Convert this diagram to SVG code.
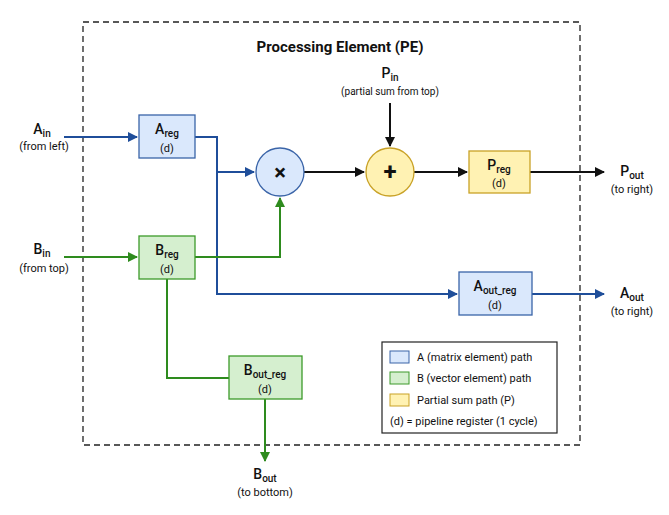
<svg xmlns="http://www.w3.org/2000/svg" width="669" height="515" viewBox="0 0 669 515">
<style>
text{font-family:Roboto,"Liberation Sans",sans-serif;fill:#111;text-anchor:middle}
.t{font-size:14px;font-weight:500}
.s{font-size:11px}
.sub{font-size:10px}
.bl{fill:#dae8fc;stroke:#3a64a8;stroke-width:1.3}
.gr{fill:#d5efcf;stroke:#3c9a2a;stroke-width:1.3}
.ye{fill:#fff2b3;stroke:#c9a227;stroke-width:1.3}
.cb{fill:none;stroke:#1f4e9a;stroke-width:2}
.cg{fill:none;stroke:#2e8b1e;stroke-width:2}
.ck{fill:none;stroke:#111;stroke-width:2}
</style>
<defs>
<marker id="ab" markerWidth="10" markerHeight="10" refX="9" refY="5" orient="auto" markerUnits="userSpaceOnUse"><path d="M0,0 L10,5 L0,10 Z" fill="#1f4e9a"/></marker>
<marker id="ag" markerWidth="10" markerHeight="10" refX="9" refY="5" orient="auto" markerUnits="userSpaceOnUse"><path d="M0,0 L10,5 L0,10 Z" fill="#2e8b1e"/></marker>
<marker id="ak" markerWidth="10" markerHeight="10" refX="9" refY="5" orient="auto" markerUnits="userSpaceOnUse"><path d="M0,0 L10,5 L0,10 Z" fill="#111"/></marker>
</defs>
<rect width="669" height="515" fill="#fff"/>
<rect x="83" y="22" width="497" height="423" fill="none" stroke="#222" stroke-width="1.3" stroke-dasharray="6,4"/>
<text x="340" y="52" style="font-size:15px;font-weight:bold">Processing Element (PE)</text>

<g id="connectors">
<path class="cb" d="M64,137 H137" marker-end="url(#ab)"/>
<path class="cb" d="M195,137 H217 V294 H457" marker-end="url(#ab)"/>
<path class="cb" d="M217,172 H254" marker-end="url(#ab)"/>
<path class="cb" d="M532,294 H604" marker-end="url(#ab)"/>
<path class="cg" d="M64,257 H137" marker-end="url(#ag)"/>
<path class="cg" d="M195,257 H280 V198" marker-end="url(#ag)"/>
<path class="cg" d="M167,279 V378 H229"/>
<path class="cg" d="M265,399 V461" marker-end="url(#ag)"/>
<path class="ck" d="M304,172 H364" marker-end="url(#ak)"/>
<path class="ck" d="M390,103 V146" marker-end="url(#ak)"/>
<path class="ck" d="M414,172 H467" marker-end="url(#ak)"/>
<path class="ck" d="M530,172 H604" marker-end="url(#ak)"/>
</g>

<g id="ain"><text x="42" y="134" class="t">A<tspan class="sub" dy="3">in</tspan></text><text x="44" y="150" class="s">(from left)</text></g>
<g id="bin"><text x="42" y="254" class="t">B<tspan class="sub" dy="3">in</tspan></text><text x="44" y="272" class="s">(from top)</text></g>
<g id="pin"><text x="390" y="78" class="t">P<tspan class="sub" dy="3">in</tspan></text><text x="390" y="95" class="s" style="font-size:10px">(partial sum from top)</text></g>
<g id="pout"><text x="632" y="176" class="t">P<tspan class="sub" dy="3">out</tspan></text><text x="632" y="193" class="s">(to right)</text></g>
<g id="aout"><text x="632" y="298" class="t">A<tspan class="sub" dy="3">out</tspan></text><text x="632" y="315" class="s">(to right)</text></g>
<g id="bout"><text x="265" y="479" class="t">B<tspan class="sub" dy="3">out</tspan></text><text x="265" y="496" class="s">(to bottom)</text></g>

<g id="areg"><rect x="139" y="115" width="56" height="43" class="bl"/><text x="167" y="134" class="t">A<tspan class="sub" dy="3">reg</tspan></text><text x="167" y="152" class="s">(d)</text></g>
<g id="breg"><rect x="139" y="236" width="56" height="43" class="gr"/><text x="167" y="255" class="t">B<tspan class="sub" dy="3">reg</tspan></text><text x="167" y="273" class="s">(d)</text></g>
<g id="mul"><circle cx="280" cy="172" r="24" class="bl"/><text x="280" y="180" style="font-size:22px;font-weight:bold">×</text></g>
<g id="add"><circle cx="390" cy="172" r="24" class="ye"/><text x="390" y="180" style="font-size:24px;font-weight:bold">+</text></g>
<g id="preg"><rect x="469" y="151" width="61" height="42" class="ye"/><text x="499" y="170" class="t">P<tspan class="sub" dy="3">reg</tspan></text><text x="499" y="187" class="s">(d)</text></g>
<g id="aoutreg"><rect x="459" y="272" width="73" height="43" class="bl"/><text x="495" y="291" class="t">A<tspan class="sub" dy="3">out_reg</tspan></text><text x="495" y="309" class="s">(d)</text></g>
<g id="boutreg"><rect x="229" y="356" width="73" height="43" class="gr"/><text x="265" y="375" class="t">B<tspan class="sub" dy="3">out_reg</tspan></text><text x="265" y="393" class="s">(d)</text></g>

<g id="legend">
<rect x="382" y="342" width="175" height="91" fill="#fff" stroke="#222" stroke-width="1.2"/>
<rect x="390" y="351" width="19" height="12" class="bl" style="stroke-width:1"/>
<rect x="390" y="372" width="19" height="12" class="gr" style="stroke-width:1"/>
<rect x="390" y="394" width="19" height="12" class="ye" style="stroke-width:1"/>
<text x="417" y="361" class="s" style="text-anchor:start">A (matrix element) path</text>
<text x="417" y="382" class="s" style="text-anchor:start">B (vector element) path</text>
<text x="417" y="404" class="s" style="text-anchor:start">Partial sum path (P)</text>
<text x="390" y="425" class="s" style="text-anchor:start">(d) = pipeline register (1 cycle)</text>
</g>
</svg>
